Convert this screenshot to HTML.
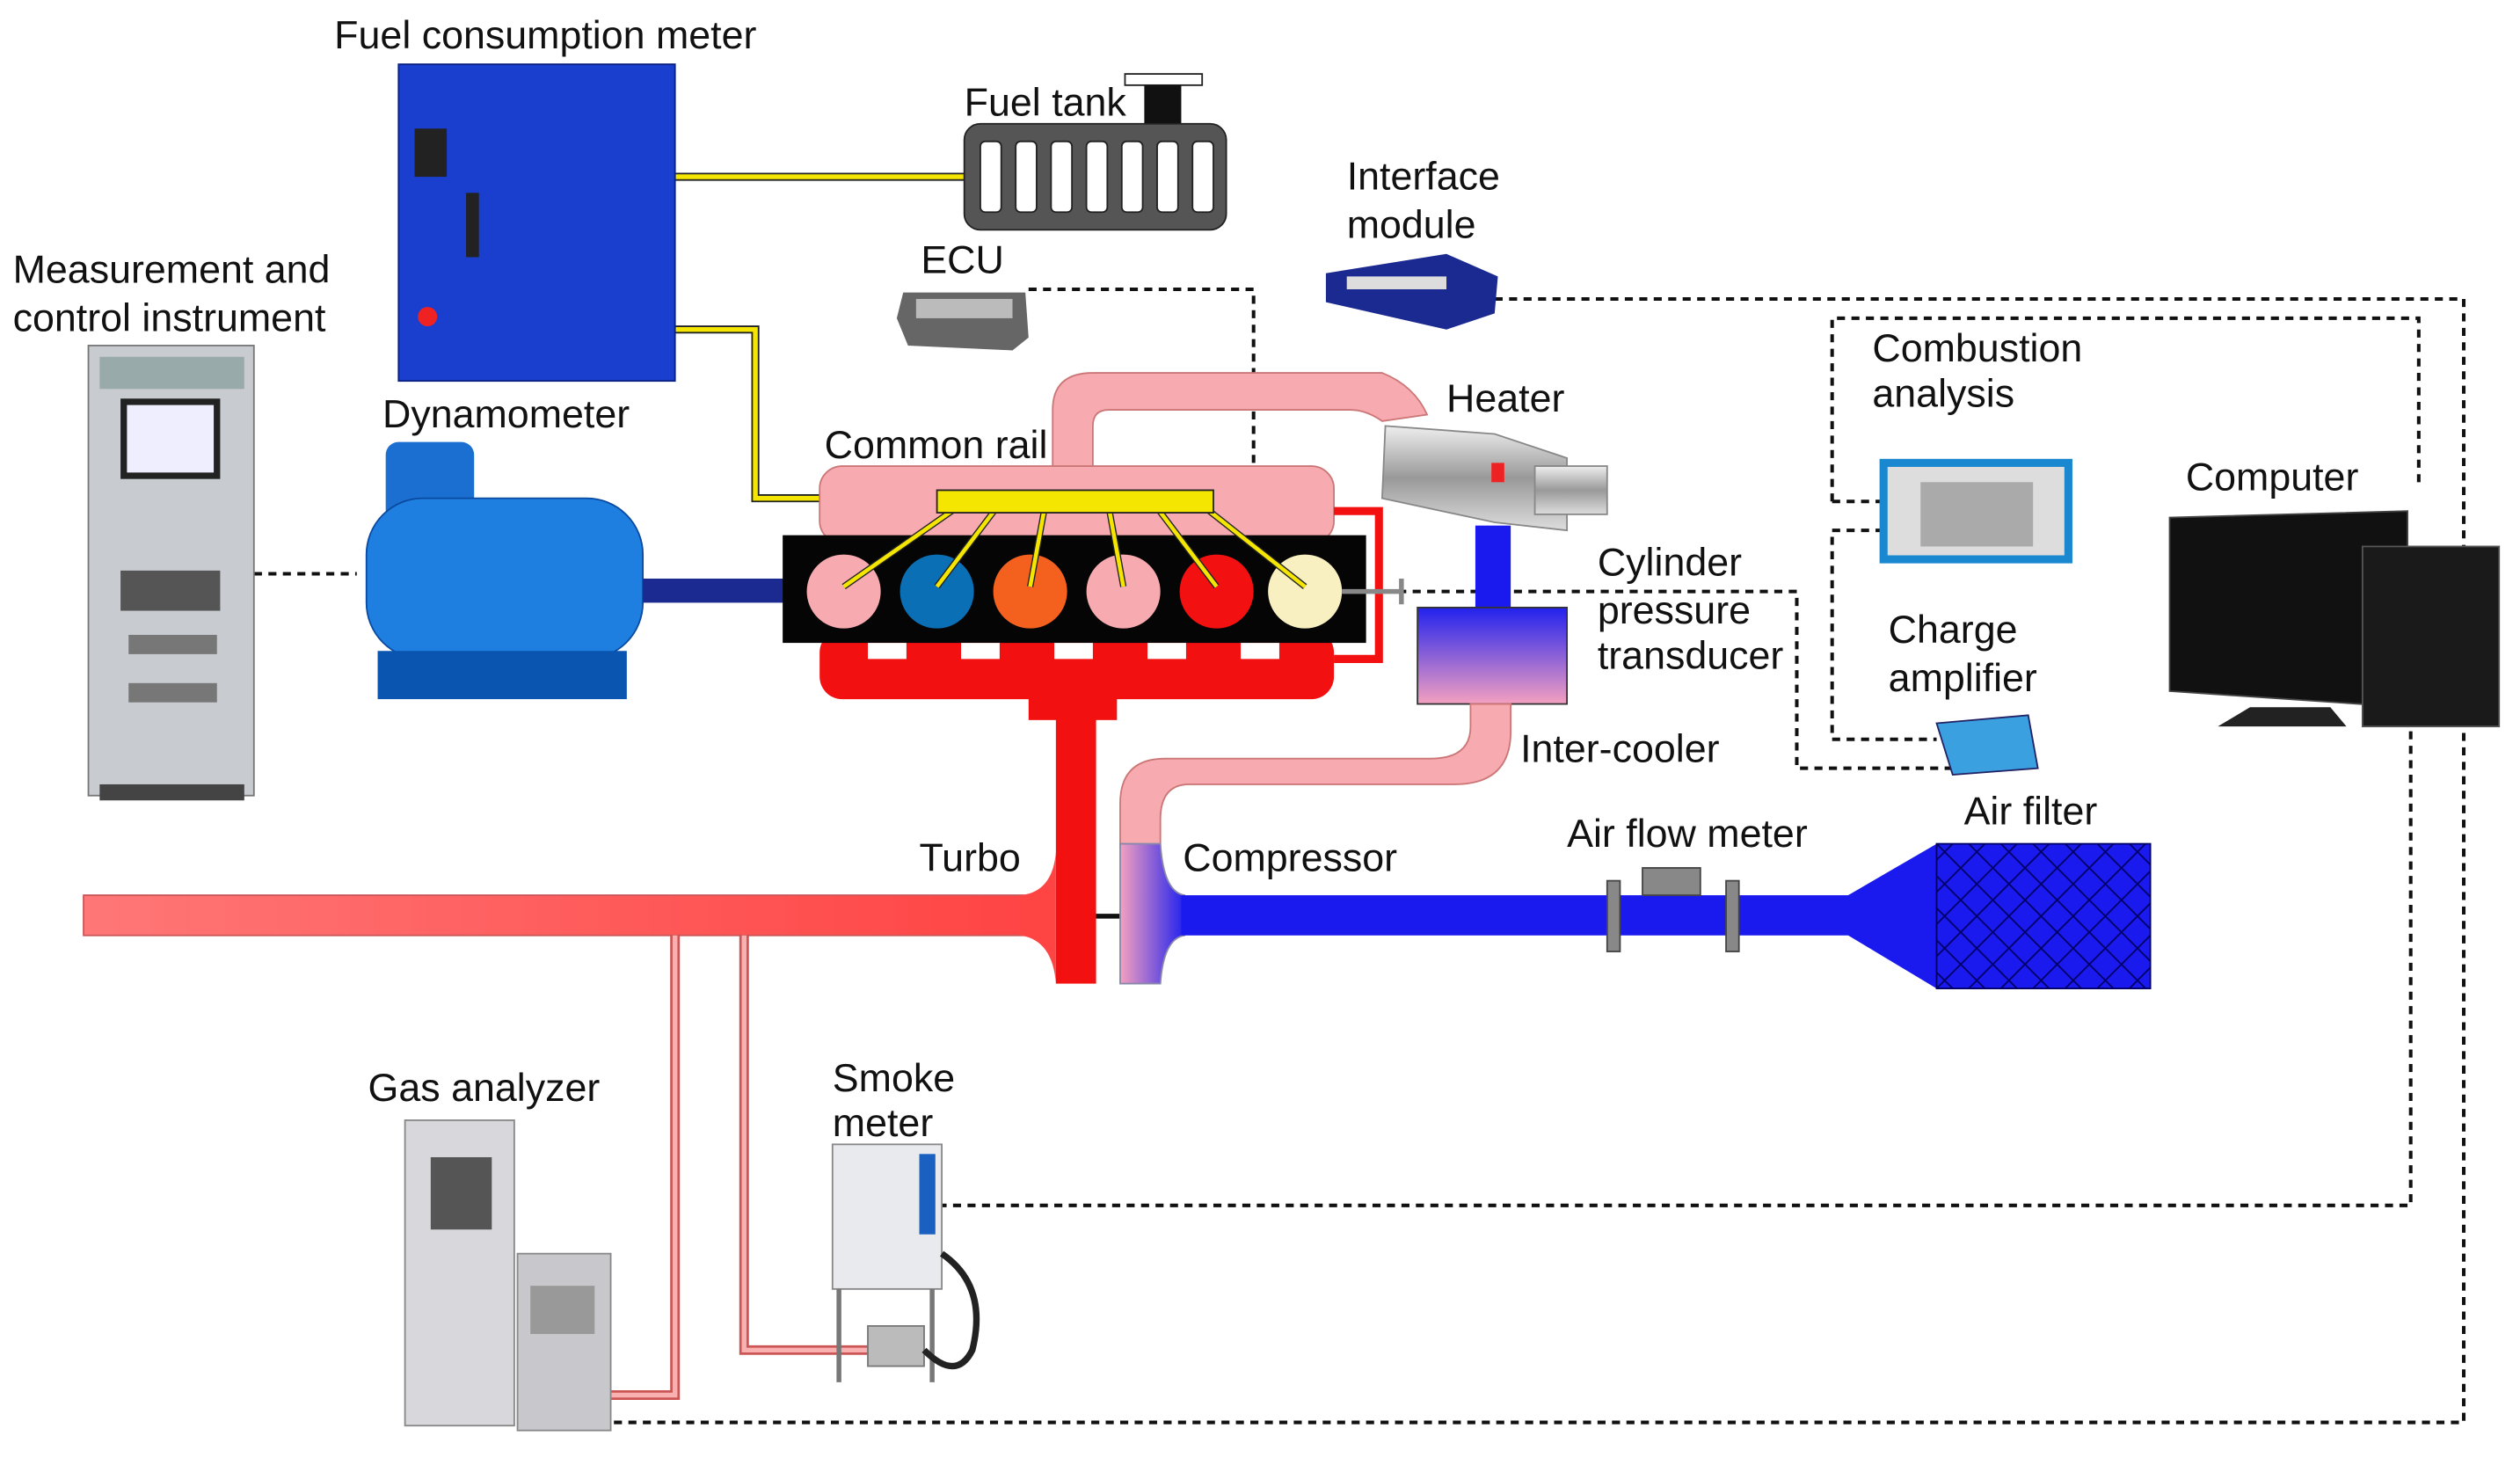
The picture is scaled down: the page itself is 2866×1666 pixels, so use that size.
<!DOCTYPE html>
<html><head><meta charset="utf-8"><style>
html,body{margin:0;padding:0;background:#fff;}
svg{display:block;}
text{font-family:"Liberation Sans",Arial,sans-serif;font-size:24.5px;fill:#111;}
</style></head><body>
<svg width="2866" height="1666" viewBox="0 0 1568 911.5" preserveAspectRatio="none" xmlns="http://www.w3.org/2000/svg">
<defs>
<linearGradient id="exh" x1="0" x2="1"><stop offset="0" stop-color="#f77"/><stop offset="1" stop-color="#f44"/></linearGradient>
<linearGradient id="ic" x1="0" y1="0" x2="0" y2="1"><stop offset="0" stop-color="#2222ee"/><stop offset="1" stop-color="#f4a0c0"/></linearGradient>
<linearGradient id="cp" x1="0" y1="0" x2="1" y2="0"><stop offset="0" stop-color="#f4a0c0"/><stop offset="1" stop-color="#2222ee"/></linearGradient>
<linearGradient id="silver" x1="0" y1="0" x2="0" y2="1"><stop offset="0" stop-color="#eee"/><stop offset=".5" stop-color="#999"/><stop offset="1" stop-color="#ddd"/></linearGradient>
<pattern id="hatch" width="20" height="20" patternUnits="userSpaceOnUse"><rect width="20" height="20" fill="#1a1aee"/><path d="M0 0L20 20M20 0L0 20" stroke="#000066" stroke-width="1"/></pattern>
</defs>

<g fill="none" stroke="#111" stroke-width="2.2" stroke-dasharray="5,4">
<path d="M158 357H222"/>
<path d="M640 180H780V318H752"/>
<path d="M930 186H1533V885H380"/>
<path d="M1140 312V198H1505V300"/>
<path d="M1140 312H1172"/>
<path d="M1172 330H1140V460H1205"/>
<path d="M870 368H1118V478H1215"/>
<path d="M1500 455V750H585"/>
</g>

<g fill="none" stroke="#222" stroke-width="5"><path d="M420 110H600"/><path d="M405 205H470V310H585"/></g>
<g fill="none" stroke="#f4e600" stroke-width="3"><path d="M420 110H600"/><path d="M405 205H470V310H585"/></g>

<rect x="248" y="40" width="172" height="197" fill="#1a3fcf" stroke="#0a2080"/>
<rect x="258" y="80" width="20" height="30" fill="#222"/><rect x="290" y="120" width="8" height="40" fill="#222"/>
<circle cx="266" cy="197" r="6" fill="#e22"/>
<text x="208" y="30">Fuel consumption meter</text>

<rect x="700" y="46" width="48" height="7" fill="#fff" stroke="#222"/>
<rect x="712" y="53" width="23" height="24" fill="#111"/>
<rect x="600" y="77" width="163" height="66" rx="10" fill="#555" stroke="#222"/>
<g fill="#fff" stroke="#222"><rect x="610" y="88" width="13" height="44" rx="3"/><rect x="632" y="88" width="13" height="44" rx="3"/><rect x="654" y="88" width="13" height="44" rx="3"/><rect x="676" y="88" width="13" height="44" rx="3"/><rect x="698" y="88" width="13" height="44" rx="3"/><rect x="720" y="88" width="13" height="44" rx="3"/><rect x="742" y="88" width="13" height="44" rx="3"/></g>
<text x="600" y="72">Fuel tank</text>

<path d="M825 170L900 158L932 172L930 195L900 205L825 188Z" fill="#1a2a90"/>
<rect x="838" y="172" width="62" height="8" fill="#ddd"/>
<text x="838" y="118">Interface</text><text x="838" y="148">module</text>
<path d="M562 182L638 182L640 210L630 218L565 215L558 198Z" fill="#666"/>
<rect x="570" y="186" width="60" height="12" fill="#bbb"/>
<text x="573" y="170">ECU</text>

<rect x="55" y="215" width="103" height="280" fill="#c8ccd0" stroke="#777"/>
<rect x="62" y="222" width="90" height="20" fill="#9aa"/>
<rect x="75" y="248" width="62" height="50" fill="#222"/><rect x="79" y="252" width="54" height="42" fill="#eef"/>
<rect x="75" y="355" width="62" height="25" fill="#555"/>
<rect x="80" y="395" width="55" height="12" fill="#777"/><rect x="80" y="425" width="55" height="12" fill="#777"/>
<rect x="62" y="488" width="90" height="10" fill="#444"/>
<text x="8" y="176">Measurement and</text><text x="8" y="206">control instrument</text>

<rect x="240" y="275" width="55" height="50" rx="8" fill="#1a6fd0"/>
<rect x="228" y="310" width="172" height="100" rx="35" fill="#1e7fe0" stroke="#0a4aa0"/>
<rect x="235" y="405" width="155" height="30" fill="#0a55b0"/>
<rect x="400" y="360" width="90" height="15" fill="#1a2a90"/>
<text x="238" y="266">Dynamometer</text>

<path d="M655 295V255Q655 232 680 232H860Q880 240 888 258L860 262Q850 255 840 255H690Q680 255 680 265V295Z" fill="#f7aab0" stroke="#c77" stroke-width="1"/>
<rect x="510" y="290" width="320" height="48" rx="14" fill="#f7aab0" stroke="#c77"/>
<rect x="510" y="392" width="320" height="43" rx="14" fill="#f21010"/>
<rect x="640" y="430" width="55" height="18" fill="#f21010"/>
<path d="M830 318H858V410H830" fill="none" stroke="#f21010" stroke-width="5"/>
<rect x="487" y="333" width="363" height="67" fill="#050505"/>
<g fill="#fff"><rect x="540" y="400" width="24" height="10"/><rect x="598" y="400" width="24" height="10"/><rect x="656" y="400" width="24" height="10"/><rect x="714" y="400" width="24" height="10"/><rect x="772" y="400" width="24" height="10"/></g>
<circle cx="525" cy="368" r="23" fill="#f7aab0"/><circle cx="583" cy="368" r="23" fill="#0a6fb5"/><circle cx="641" cy="368" r="23" fill="#f4611e"/><circle cx="699" cy="368" r="23" fill="#f7aab0"/><circle cx="757" cy="368" r="23" fill="#f21010"/><circle cx="812" cy="368" r="23" fill="#f8f0c0"/>
<path d="M835 368H872M872 360V376" stroke="#888" stroke-width="3" fill="none"/>
<g stroke="#222" stroke-width="4" fill="none"><path d="M595 316L525 365M620 316L583 365M650 316L641 365M690 316L699 365M720 316L757 365M750 316L812 365"/></g>
<g stroke="#f4e600" stroke-width="2.5" fill="none"><path d="M595 316L525 365M620 316L583 365M650 316L641 365M690 316L699 365M720 316L757 365M750 316L812 365"/></g>
<rect x="583" y="305" width="172" height="14" fill="#f4e600" stroke="#222"/>
<text x="513" y="285">Common rail</text>

<path d="M862 265L930 270L975 285L975 330L930 325L860 310Z" fill="url(#silver)" stroke="#888"/>
<rect x="955" y="290" width="45" height="30" fill="url(#silver)" stroke="#888"/>
<rect x="928" y="288" width="8" height="12" fill="#e22"/>
<text x="900" y="256">Heater</text>
<rect x="918" y="327" width="22" height="55" fill="#1a1aee"/>
<rect x="882" y="378" width="93" height="60" fill="url(#ic)" stroke="#333"/>
<path d="M915 438V452Q915 472 890 472H725Q697 472 697 500V527H722V510Q722 488 740 488H905Q940 488 940 455V438Z" fill="#f7aab0" stroke="#c77"/>
<text x="946" y="474">Inter-cooler</text>
<text x="994" y="358">Cylinder</text><text x="994" y="388">pressure</text><text x="994" y="416">transducer</text>

<rect x="657" y="435" width="25" height="177" fill="#f21010"/>
<rect x="52" y="557" width="590" height="25" fill="url(#exh)" stroke="#c55"/>
<path d="M635 557Q655 555 657 530V612Q655 585 635 582Z" fill="#f44"/>
<path d="M682 570H697" stroke="#111" stroke-width="3"/>
<text x="572" y="542">Turbo</text>
<path d="M697 525H722Q724 555 737 557V582Q724 584 722 612H697Z" fill="url(#cp)" stroke="#88a"/>
<rect x="735" y="557" width="420" height="25" fill="#1a1aee"/>
<path d="M1150 557L1205 525V615L1150 582Z" fill="#1a1aee"/>
<rect x="1205" y="525" width="133" height="90" fill="url(#hatch)" stroke="#000066"/>
<rect x="1022" y="540" width="36" height="17" fill="#888" stroke="#444"/>
<rect x="1000" y="548" width="8" height="44" fill="#888" stroke="#444"/><rect x="1074" y="548" width="8" height="44" fill="#888" stroke="#444"/>
<text x="736" y="542">Compressor</text><text x="975" y="527">Air flow meter</text><text x="1222" y="513">Air filter</text>

<g fill="none" stroke="#c55" stroke-width="6"><path d="M420 582V868H380"/><path d="M463 582V840H540"/></g>
<g fill="none" stroke="#f9b0b0" stroke-width="3"><path d="M420 582V868H380"/><path d="M463 582V840H540"/></g>

<rect x="1172" y="288" width="115" height="60" fill="#ddd" stroke="#1a88d0" stroke-width="5"/>
<rect x="1195" y="300" width="70" height="40" fill="#aaa"/>
<text x="1165" y="225">Combustion</text><text x="1165" y="253">analysis</text>
<path d="M1205 450L1262 445L1268 478L1215 482Z" fill="#3aa0e0" stroke="#226"/>
<text x="1175" y="400">Charge</text><text x="1175" y="430">amplifier</text>

<path d="M1350 322L1498 318V440L1350 430Z" fill="#111" stroke="#444"/>
<path d="M1400 440H1450L1460 452H1380Z" fill="#222"/>
<rect x="1470" y="340" width="85" height="112" fill="#1a1a1a" stroke="#555"/>
<text x="1360" y="305">Computer</text>

<rect x="252" y="697" width="68" height="190" fill="#d8d8dc" stroke="#888"/>
<rect x="268" y="720" width="38" height="45" fill="#555"/>
<rect x="322" y="780" width="58" height="110" fill="#c8c8cc" stroke="#888"/>
<rect x="330" y="800" width="40" height="30" fill="#999"/>
<text x="229" y="685">Gas analyzer</text>
<rect x="518" y="712" width="68" height="90" fill="#e8eaee" stroke="#888"/>
<rect x="572" y="718" width="10" height="50" fill="#1a60c0"/>
<path d="M522 802V860M580 802V860" stroke="#777" stroke-width="3"/>
<rect x="540" y="825" width="35" height="25" fill="#bbb" stroke="#777"/>
<path d="M586 780Q615 800 605 840Q595 860 575 840" fill="none" stroke="#222" stroke-width="4"/>
<text x="518" y="679">Smoke</text><text x="518" y="707">meter</text>
</svg>
</body></html>
